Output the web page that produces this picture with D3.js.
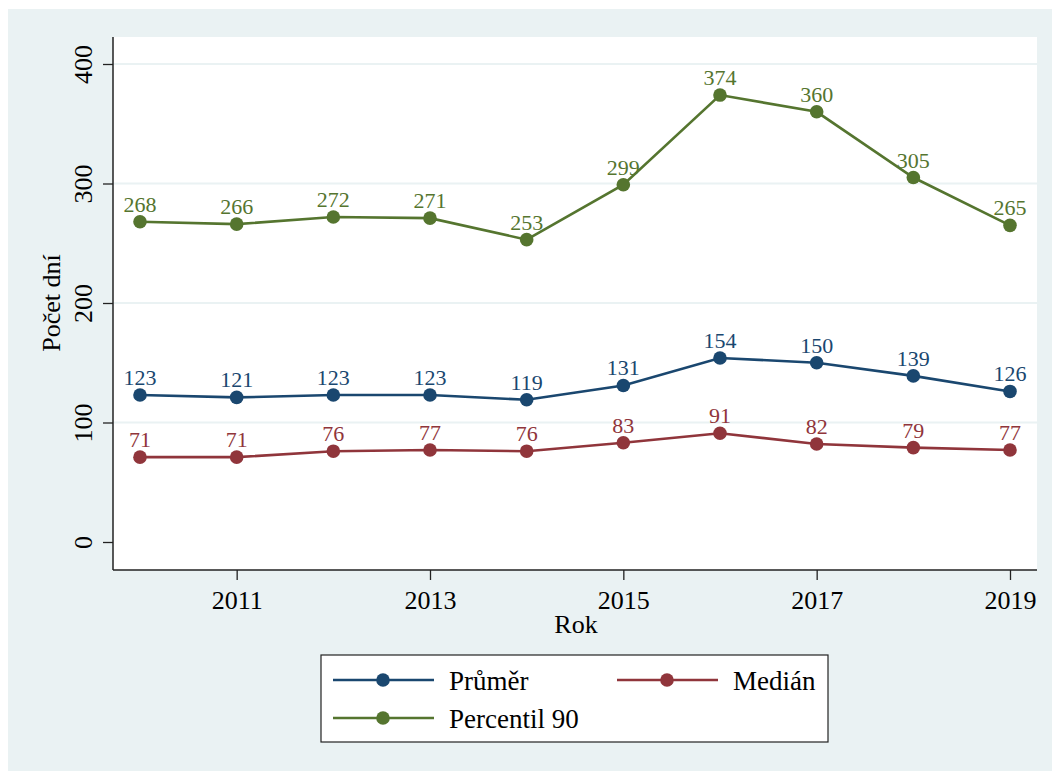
<!DOCTYPE html>
<html>
<head>
<meta charset="utf-8">
<script src="https://cdn.jsdelivr.net/npm/d3@7"></script>
<style>
  body { margin: 0; background: #ffffff; }
  svg text { font-family: "Liberation Serif", "Times New Roman", "DejaVu Serif", serif !important; }
</style>
</head>
<body>
<svg id="chart" width="1052" height="771"></svg>
<script>
const years = [2010, 2011, 2012, 2013, 2014, 2015, 2016, 2017, 2018, 2019];
const prumer = [123, 121, 123, 123, 119, 131, 154, 150, 139, 126];
const median = [71, 71, 76, 77, 76, 83, 91, 82, 79, 77];
const percentil90 = [268, 266, 272, 271, 253, 299, 374, 360, 305, 265];
const xTicks = [2011, 2013, 2015, 2017, 2019];
const yTicks = [0, 100, 200, 300, 400];
const seriesNames = ["Průměr", "Medián", "Percentil 90"];
const seriesColors = ["#1a476f", "#90353b", "#55752f"];

const series = [
  { name: seriesNames[0], color: seriesColors[0], values: prumer },
  { name: seriesNames[1], color: seriesColors[1], values: median },
  { name: seriesNames[2], color: seriesColors[2], values: percentil90 }
];

const FONT = '"Liberation Serif", "Times New Roman", serif';
const svg = d3.select("#chart");
const bg = "#eaf2f3";

// outer background
svg.append("rect").attr("x", 8).attr("y", 9).attr("width", 1044).attr("height", 762).attr("fill", bg);

const plot = { left: 113, right: 1037, top: 37, bottom: 570 };
svg.append("rect").attr("x", plot.left).attr("y", plot.top)
  .attr("width", plot.right - plot.left).attr("height", plot.bottom - plot.top).attr("fill", "#ffffff");

const x = d3.scaleLinear().domain([2010, 2019]).range([140, 1010]);
const y = d3.scaleLinear().domain([0, 400]).range([542, 64]);

// gridlines
svg.append("g").selectAll("line").data(yTicks.filter(d => d > 0)).join("line")
  .attr("x1", plot.left).attr("x2", plot.right)
  .attr("y1", d => y(d)).attr("y2", d => y(d))
  .attr("stroke", bg).attr("stroke-width", 2);

// y axis
const yAxis = svg.append("g").attr("transform", `translate(${plot.left},0)`)
  .call(d3.axisLeft(y).tickValues(yTicks).tickSize(10));
yAxis.attr("font-family", FONT);
yAxis.select(".domain").remove();
yAxis.selectAll(".tick line").attr("stroke", "#222").attr("stroke-width", 1.3);
yAxis.selectAll(".tick text")
  .attr("font-size", 26).attr("fill", "#000")
  .style("font-family", FONT)
  .attr("text-anchor", "middle")
  .attr("dy", 0)
  .attr("x", 0).attr("y", 0)
  .attr("transform", "translate(-21,0) rotate(-90)");
svg.append("line").attr("x1", plot.left).attr("x2", plot.left)
  .attr("y1", plot.top).attr("y2", plot.bottom).attr("stroke", "#222").attr("stroke-width", 1.5);

// x axis
const xAxis = svg.append("g").attr("transform", `translate(0,${plot.bottom})`)
  .call(d3.axisBottom(x).tickValues(xTicks).tickFormat(d3.format("d")).tickSize(10));
xAxis.attr("font-family", FONT);
xAxis.select(".domain").remove();
xAxis.selectAll(".tick line").attr("stroke", "#222").attr("stroke-width", 1.3);
xAxis.selectAll(".tick text")
  .attr("font-size", 26).attr("fill", "#000").style("font-family", FONT)
  .attr("dy", 0).attr("y", 39);
svg.append("line").attr("x1", plot.left).attr("x2", plot.right)
  .attr("y1", plot.bottom).attr("y2", plot.bottom).attr("stroke", "#222").attr("stroke-width", 1.5);

// axis titles
svg.append("text").attr("x", 576).attr("y", 633).attr("text-anchor", "middle")
  .attr("font-size", 26).style("font-family", FONT).text("Rok");
svg.append("text").attr("transform", "translate(60,303) rotate(-90)").attr("text-anchor", "middle")
  .attr("font-size", 26).style("font-family", FONT).text("Počet dní");

// lines, markers, labels
const line = d3.line().x((d, i) => x(years[i])).y(d => y(d));
series.forEach(s => {
  const g = svg.append("g");
  g.append("path").datum(s.values).attr("d", line)
    .attr("fill", "none").attr("stroke", s.color).attr("stroke-width", 2.6);
  g.selectAll("circle").data(s.values).join("circle")
    .attr("cx", (d, i) => x(years[i])).attr("cy", d => y(d)).attr("r", 6.8)
    .attr("fill", s.color);
  g.selectAll("text").data(s.values).join("text")
    .attr("x", (d, i) => x(years[i])).attr("y", d => y(d) - 10)
    .attr("text-anchor", "middle").attr("font-size", 22).attr("fill", s.color)
    .style("font-family", FONT)
    .text(d => d);
});

// legend
const lg = svg.append("g");
lg.append("rect").attr("x", 321).attr("y", 655).attr("width", 507).attr("height", 87)
  .attr("fill", "#ffffff").attr("stroke", "#222").attr("stroke-width", 1.2);
const legendPos = [
  { lx: 333, ty: 680 },
  { lx: 617, ty: 680 },
  { lx: 333, ty: 718 }
];
series.forEach((s, i) => {
  const p = legendPos[i];
  lg.append("line").attr("x1", p.lx).attr("x2", p.lx + 101).attr("y1", p.ty).attr("y2", p.ty)
    .attr("stroke", s.color).attr("stroke-width", 2.6);
  lg.append("circle").attr("cx", p.lx + 50).attr("cy", p.ty).attr("r", 6.8).attr("fill", s.color);
  lg.append("text").attr("x", p.lx + 116).attr("y", p.ty + 10).attr("font-size", 27)
    .style("font-family", FONT)
    .attr("fill", "#000").text(s.name);
});
</script>
</body>
</html>
